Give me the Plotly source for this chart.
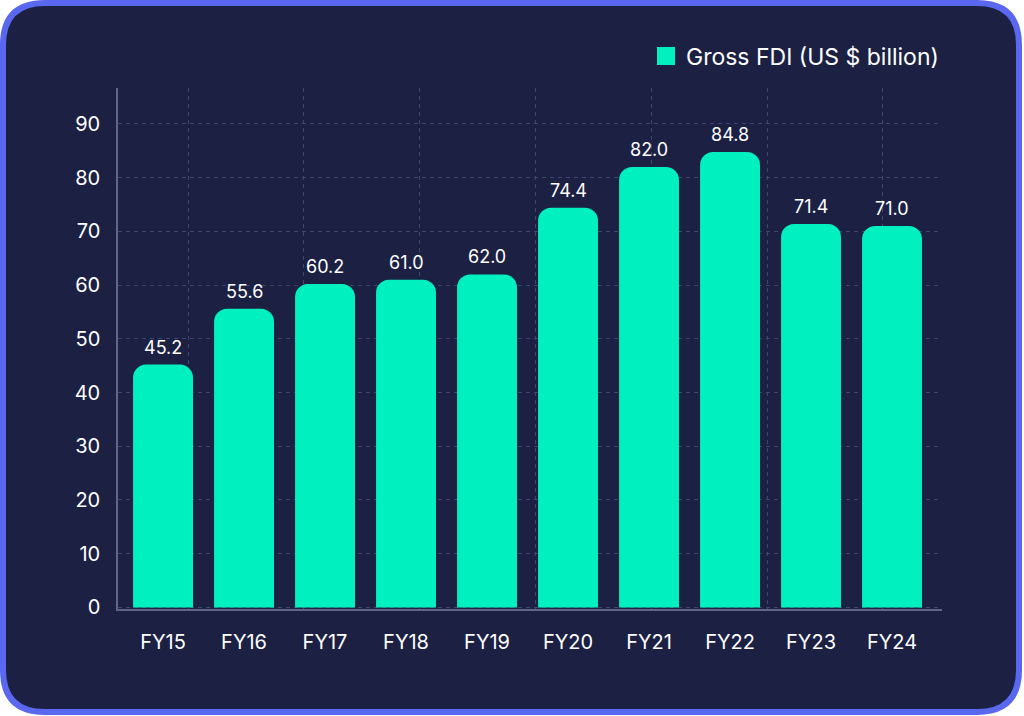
import plotly.graph_objects as go

# ---- data ----
categories = ["FY15", "FY16", "FY17", "FY18", "FY19", "FY20", "FY21", "FY22", "FY23", "FY24"]
gross_fdi = [45.2, 55.6, 60.2, 61.0, 62.0, 74.4, 82.0, 84.8, 71.4, 71.0]
label_text = [f"{v:.1f}" for v in gross_fdi]
series_name = "Gross FDI (US $ billion)"

# ---- style / layout constants ----
W, H = 1024, 716
L, R, T, B = 118, 82, 88, 107
PW, PH = W - L - R, H - T - B
NAVY = "#1c2143"
BORDER = "#5a67ef"
TEAL = "#00f0bf"
GRID = "#3f4770"
AXIS = "#5f6688"
FONT = "Inter, Roboto, 'Open Sans', sans-serif"


def px_to_paper(px, py):
    return (px - L) / PW, (H - B - py) / PH


def rounded_rect_path(x0, y0, x1, y1, r):
    def P(px, py):
        x, y = px_to_paper(px, py)
        return f"{x:.5f},{y:.5f}"
    return (
        f"M {P(x0 + r, y0)} L {P(x1 - r, y0)} Q {P(x1, y0)} {P(x1, y0 + r)} "
        f"L {P(x1, y1 - r)} Q {P(x1, y1)} {P(x1 - r, y1)} "
        f"L {P(x0 + r, y1)} Q {P(x0, y1)} {P(x0, y1 - r)} "
        f"L {P(x0, y0 + r)} Q {P(x0, y0)} {P(x0 + r, y0)} Z"
    )


fig = go.Figure()
# carrier for the vertical decorative grid axis (drawn first, below bars)
fig.add_trace(go.Scatter(
    x=[None], y=[None], xaxis="x2", mode="markers",
    showlegend=False, hoverinfo="skip",
))
fig.add_trace(go.Bar(
    x=list(range(len(categories))),
    y=gross_fdi,
    name=series_name,
    marker=dict(color=TEAL, line=dict(width=0)),
    showlegend=False,
    hoverinfo="skip",
))
# legend entry (larger square swatch)
fig.add_trace(go.Scatter(
    x=[None], y=[None], mode="markers", name=series_name,
    marker=dict(symbol="square", size=16, color=TEAL,
                line=dict(color=TEAL, width=2)),
    showlegend=True,
))

annotations = [
    dict(x=i, y=v, text=t, xref="x", yref="y", showarrow=False,
         yanchor="bottom", yshift=5,
         font=dict(family=FONT, size=18, color="#ffffff"))
    for i, (v, t) in enumerate(zip(gross_fdi, label_text))
]

fig.update_layout(
    width=W, height=H,
    margin=dict(l=L, r=R, t=T, b=B, pad=0),
    paper_bgcolor="#ffffff",
    plot_bgcolor="rgba(0,0,0,0)",
    bargap=0.26,
    barcornerradius=13,
    font=dict(family=FONT, color="#ffffff"),
    shapes=[dict(
        type="path", xref="paper", yref="paper", layer="below",
        path=rounded_rect_path(3, 3, 1019, 712, 42),
        fillcolor=NAVY, line=dict(color=BORDER, width=6),
    )],
    annotations=annotations,
    legend=dict(
        x=(944 - L) / PW, y=(H - B - 56) / PH, xanchor="right", yanchor="middle",
        orientation="h", bgcolor="rgba(0,0,0,0)",
        font=dict(family=FONT, size=23, color="#ffffff"),
    ),
    xaxis=dict(
        tickmode="array",
        tickvals=list(range(len(categories))),
        ticktext=categories,
        range=[-0.556, 9.617],
        showgrid=False, zeroline=False,
        showline=True, linecolor=AXIS, linewidth=1.5,
        ticks="outside", ticklen=14, tickcolor="rgba(0,0,0,0)",
        tickfont=dict(family=FONT, size=20, color="#ffffff"),
    ),
    xaxis2=dict(
        overlaying="x", anchor="y", side="bottom",
        range=[L, W - R], tick0=188, dtick=115.8,
        showgrid=True, gridcolor=GRID, griddash="4px,4px", gridwidth=1,
        showticklabels=False, ticks="", zeroline=False, showline=False,
        layer="below traces",
    ),
    yaxis=dict(
        range=[-0.3, 96.7], dtick=10, tick0=0,
        showgrid=True, gridcolor=GRID, griddash="4px,4px", gridwidth=1,
        zeroline=False,
        showline=True, linecolor=AXIS, linewidth=1.5,
        ticks="outside", ticklen=12, tickcolor="rgba(0,0,0,0)",
        tickfont=dict(family=FONT, size=20, color="#ffffff"),
        layer="below traces",
    ),
)

fig.write_html("out.html", config={"displayModeBar": False},
               post_script="document.body.style.margin='0';")
